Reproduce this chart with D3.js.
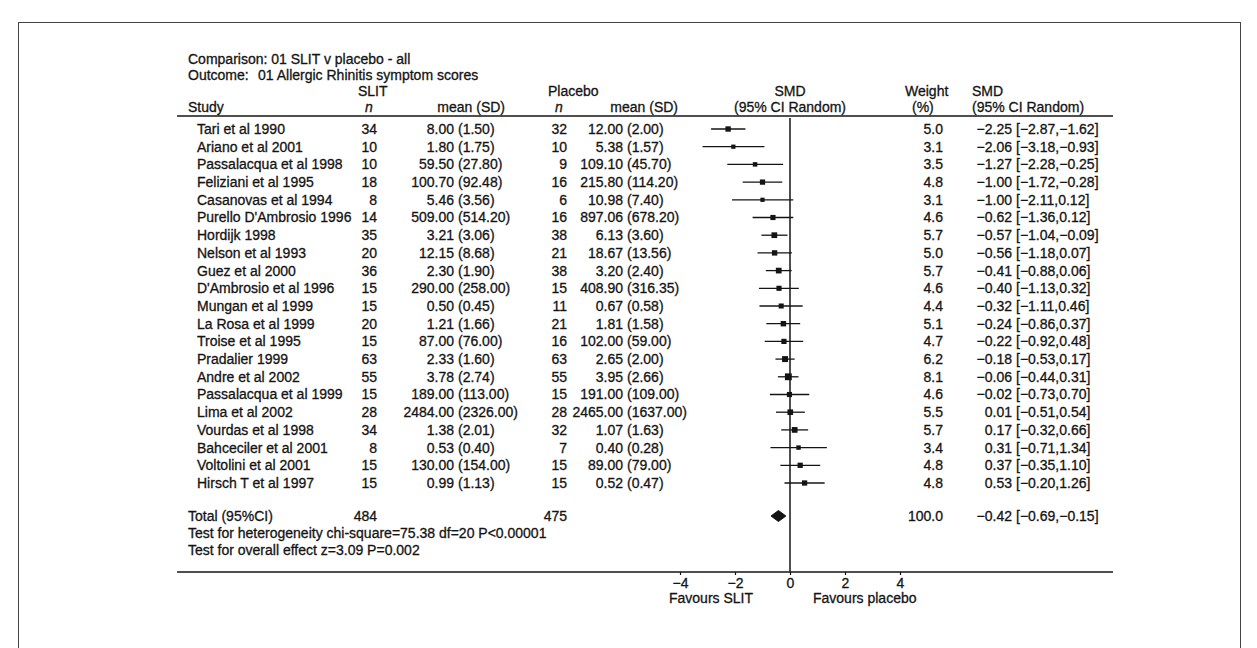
<!DOCTYPE html>
<html>
<head>
<meta charset="utf-8">
<script src="https://cdn.jsdelivr.net/npm/d3@7"></script>
<style>
  body { margin: 0; background: #fff; }
  svg text { font-family: "Liberation Sans", Arial, sans-serif; font-size: 14px; fill: #141414; stroke: #141414; stroke-width: 0.3px; }
</style>
</head>
<body>
<svg id="chart" width="1257" height="648"></svg>
<script>
// ---------------------------------------------------------------------------
// Data
// ---------------------------------------------------------------------------
const studies = [
  "Tari et al 1990", "Ariano et al 2001", "Passalacqua et al 1998", "Feliziani et al 1995",
  "Casanovas et al 1994", "Purello D'Ambrosio 1996", "Hordijk 1998", "Nelson et al 1993",
  "Guez et al 2000", "D'Ambrosio et al 1996", "Mungan et al 1999", "La Rosa et al 1999",
  "Troise et al 1995", "Pradalier 1999", "Andre et al 2002", "Passalacqua et al 1999",
  "Lima et al 2002", "Vourdas et al 1998", "Bahceciler et al 2001", "Voltolini et al 2001",
  "Hirsch T et al 1997"
];
const slitN    = [34, 10, 10, 18, 8, 14, 35, 20, 36, 15, 15, 20, 15, 63, 55, 15, 28, 34, 8, 15, 15];
const slitMean = [8.00, 1.80, 59.50, 100.70, 5.46, 509.00, 3.21, 12.15, 2.30, 290.00, 0.50, 1.21, 87.00, 2.33, 3.78, 189.00, 2484.00, 1.38, 0.53, 130.00, 0.99];
const slitSD   = [1.50, 1.75, 27.80, 92.48, 3.56, 514.20, 3.06, 8.68, 1.90, 258.00, 0.45, 1.66, 76.00, 1.60, 2.74, 113.00, 2326.00, 2.01, 0.40, 154.00, 1.13];
const placN    = [32, 10, 9, 16, 6, 16, 38, 21, 38, 15, 11, 21, 16, 63, 55, 15, 28, 32, 7, 15, 15];
const placMean = [12.00, 5.38, 109.10, 215.80, 10.98, 897.06, 6.13, 18.67, 3.20, 408.90, 0.67, 1.81, 102.00, 2.65, 3.95, 191.00, 2465.00, 1.07, 0.40, 89.00, 0.52];
const placSD   = [2.00, 1.57, 45.70, 114.20, 7.40, 678.20, 3.60, 13.56, 2.40, 316.35, 0.58, 1.58, 59.00, 2.00, 2.66, 109.00, 1637.00, 1.63, 0.28, 79.00, 0.47];
const weights  = [5.0, 3.1, 3.5, 4.8, 3.1, 4.6, 5.7, 5.0, 5.7, 4.6, 4.4, 5.1, 4.7, 6.2, 8.1, 4.6, 5.5, 5.7, 3.4, 4.8, 4.8];
const smd      = [-2.25, -2.06, -1.27, -1.00, -1.00, -0.62, -0.57, -0.56, -0.41, -0.40, -0.32, -0.24, -0.22, -0.18, -0.06, -0.02, 0.01, 0.17, 0.31, 0.37, 0.53];
const ciLow    = [-2.87, -3.18, -2.28, -1.72, -2.11, -1.36, -1.04, -1.18, -0.88, -1.13, -1.11, -0.86, -0.92, -0.53, -0.44, -0.73, -0.51, -0.32, -0.71, -0.35, -0.20];
const ciHigh   = [-1.62, -0.93, -0.25, -0.28, 0.12, 0.12, -0.09, 0.07, 0.06, 0.32, 0.46, 0.37, 0.48, 0.17, 0.31, 0.70, 0.54, 0.66, 1.34, 1.10, 1.26];

// pooled result
const totalLabel = "Total (95%CI)";
const totalN = ["484", "475"];
const totalWeight = 100.0;
const totalSmd = [-0.42, -0.69, -0.15];   // estimate, low, high
const testLines = [
  "Test for heterogeneity chi-square=75.38 df=20 P<0.00001",
  "Test for overall effect z=3.09 P=0.002"
];
const axisTicks = [-4, -2, 0, 2, 4];

// ---------------------------------------------------------------------------
// Layout
// ---------------------------------------------------------------------------
const svg = d3.select("#chart");
const ink = "#141414";
const left = 177, right = 1113;
const topLine = 116, axisY = 572;

const x = d3.scaleLinear().domain([-4, 4]).range([680, 900]);
const y = d3.scaleLinear().domain([0, studies.length - 1]).range([129, 483]);

const col = {
  name: 197, slitN: 377, slitMean: 454, slitSD: 458,
  placN: 567, placMean: 623, placSD: 627,
  weight: 943, smd: 1012, ci: 1016, label: 188
};

const fmt = v => (v < 0 ? "\u2212" : "") + Math.abs(v).toFixed(2);

function txt(tx, ty, s, anchor = "start", extra = {}) {
  const t = svg.append("text")
    .attr("x", tx).attr("y", ty).attr("dy", "0.35em")
    .attr("text-anchor", anchor)
    .text(s);
  Object.entries(extra).forEach(([k, v]) => t.style(k, v));
  return t;
}

// page border
svg.append("rect")
  .attr("x", 18.5).attr("y", 22.5).attr("width", 1222).attr("height", 660)
  .attr("fill", "none").attr("stroke", "#444").attr("stroke-width", 1);

// titles
txt(col.label, 59, "Comparison: 01 SLIT v placebo - all");
txt(col.label, 75, "Outcome:");
txt(258, 75, "01 Allergic Rhinitis symptom scores");

// column headers
const h1 = 91, h2 = 107;
txt(358, h1, "SLIT");
txt(col.label, h2, "Study");
txt(369, h2, "n", "middle", { "font-style": "italic" });
txt(505, h2, "mean (SD)", "end");
txt(548, h1, "Placebo");
txt(559, h2, "n", "middle", { "font-style": "italic" });
txt(678, h2, "mean (SD)", "end");
txt(x(0), h1, "SMD", "middle");
txt(x(0), h2, "(95% CI Random)", "middle");
txt(905, h1, "Weight");
txt(912, h2, "(%)");
txt(972, h1, "SMD");
txt(972, h2, "(95% CI Random)");

// rules
svg.append("line").attr("x1", left).attr("x2", right).attr("y1", topLine).attr("y2", topLine)
  .attr("stroke", ink).attr("stroke-width", 1.3);
svg.append("line").attr("x1", left).attr("x2", right).attr("y1", axisY).attr("y2", axisY)
  .attr("stroke", ink).attr("stroke-width", 1.6);
svg.append("line").attr("x1", x(0)).attr("x2", x(0)).attr("y1", topLine + 2).attr("y2", axisY)
  .attr("stroke", ink).attr("stroke-width", 1.5);

// study rows
const rows = svg.append("g").selectAll("g")
  .data(studies.map((s, i) => i))
  .join("g");

rows.each(function (i) {
  const ry = y(i);
  txt(col.name, ry, studies[i]);
  txt(col.slitN, ry, slitN[i], "end");
  txt(col.slitMean, ry, slitMean[i].toFixed(2), "end");
  txt(col.slitSD, ry, "(" + slitSD[i].toFixed(2) + ")");
  txt(col.placN, ry, placN[i], "end");
  txt(col.placMean, ry, placMean[i].toFixed(2), "end");
  txt(col.placSD, ry, "(" + placSD[i].toFixed(2) + ")");
  txt(col.weight, ry, weights[i].toFixed(1), "end");
  txt(col.smd, ry, fmt(smd[i]), "end");
  txt(col.ci, ry, "[" + fmt(ciLow[i]) + "," + fmt(ciHigh[i]) + "]");
});

// confidence intervals and weighted squares
const forest = svg.append("g");
forest.selectAll("line.ci")
  .data(studies.map((s, i) => i))
  .join("line")
  .attr("class", "ci")
  .attr("x1", i => x(ciLow[i])).attr("x2", i => x(ciHigh[i]))
  .attr("y1", i => y(i)).attr("y2", i => y(i))
  .attr("stroke", ink).attr("stroke-width", 1.3);

forest.selectAll("rect.box")
  .data(studies.map((s, i) => i))
  .join("rect")
  .attr("class", "box")
  .each(function (i) {
    const s = 2.4 * Math.sqrt(weights[i]);
    d3.select(this)
      .attr("x", x(smd[i]) - s / 2).attr("y", y(i) - s / 2)
      .attr("width", s).attr("height", s);
  })
  .attr("fill", ink);

// total row
const totY = 516;
txt(col.label, totY, totalLabel);
txt(col.slitN, totY, totalN[0], "end");
txt(col.placN, totY, totalN[1], "end");
txt(col.weight, totY, totalWeight.toFixed(1), "end");
txt(col.smd, totY, fmt(totalSmd[0]), "end");
txt(col.ci, totY, "[" + fmt(totalSmd[1]) + "," + fmt(totalSmd[2]) + "]");

svg.append("path")
  .attr("d", d3.line()([
    [x(totalSmd[1]), totY], [x(totalSmd[0]), totY - 5.5],
    [x(totalSmd[2]), totY], [x(totalSmd[0]), totY + 5.5]
  ]) + "Z")
  .attr("fill", ink).attr("stroke", ink).attr("stroke-width", 1);

testLines.forEach((t, k) => txt(col.label, 533 + k * 17, t));

// axis
const axis = svg.append("g")
  .attr("transform", `translate(0,${axisY})`)
  .call(d3.axisBottom(x).tickValues(axisTicks).tickSize(3).tickPadding(3)
    .tickFormat(d => d < 0 ? "\u2212" + Math.abs(d) : d));
axis.select(".domain").remove();
axis.selectAll(".tick line").attr("stroke", ink).attr("stroke-width", 1.2);
axis.selectAll("text")
  .attr("font-family", null).attr("font-size", null).attr("fill", null);

txt(753, 598, "Favours SLIT", "end");
txt(813, 598, "Favours placebo");
</script>
</body>
</html>
